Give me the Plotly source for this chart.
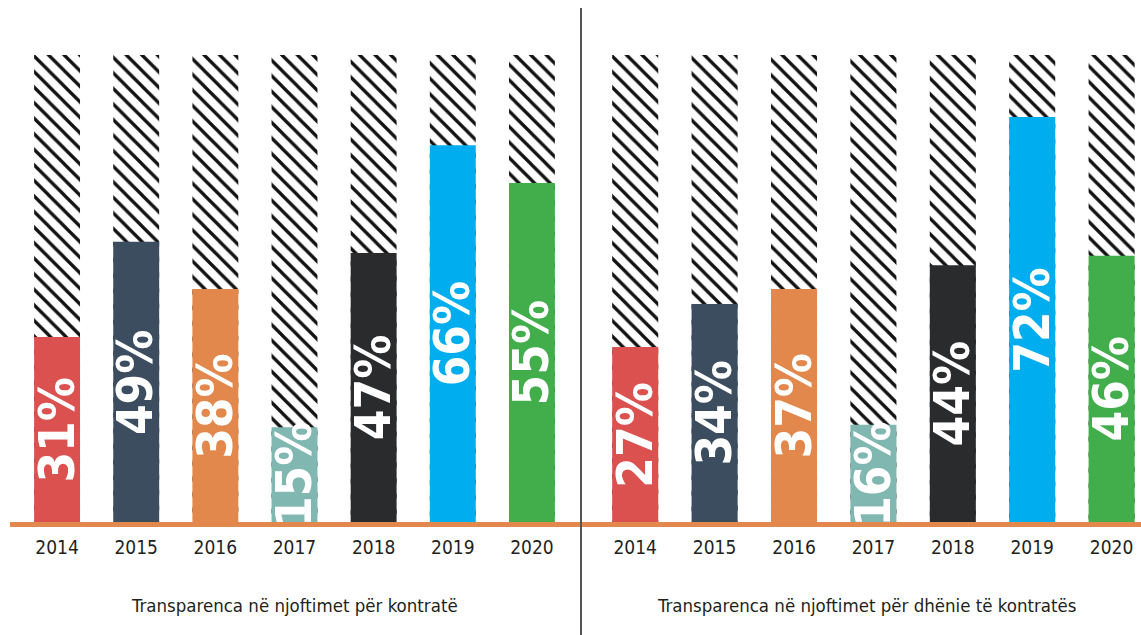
import plotly.graph_objects as go

years = ["2014", "2015", "2016", "2017", "2018", "2019", "2020"]
colors = ["#DA5150", "#3B4D5F", "#E2884C", "#80B7B0", "#2A2B2D", "#00ADEE", "#41AE4B"]

# left panel: "Transparenca në njoftimet për kontratë"
left_labels = ["31%", "49%", "38%", "15%", "47%", "66%", "55%"]
left_heights = [39.6, 60.0, 49.9, 20.3, 57.6, 80.7, 72.6]   # drawn heights (share of full bar)
# right panel: "Transparenca në njoftimet për dhënie të kontratës"
right_labels = ["27%", "34%", "37%", "16%", "44%", "72%", "46%"]
right_heights = [37.5, 46.7, 49.9, 20.8, 55.0, 86.7, 57.0]
full = [100] * 7

titles = ["Transparenca në njoftimet për kontratë",
          "Transparenca në njoftimet për dhënie të kontratës"]

FONT = "DejaVu Sans Condensed, Roboto, sans-serif"
W, H = 1141, 635
fig = go.Figure()

panels = [("x", left_heights, left_labels), ("x2", right_heights, right_labels)]
for xa, heights, labels in panels:
    fig.add_trace(go.Bar(
        x=years, y=full, xaxis=xa, yaxis="y",
        marker=dict(color="white", line=dict(width=0),
                    pattern=dict(shape="\\", fgcolor="#111111", bgcolor="white",
                                 fgopacity=1, size=11, solidity=0.3)),
        hoverinfo="skip", showlegend=False))
    fig.add_trace(go.Bar(
        x=years, y=heights, xaxis=xa, yaxis="y",
        marker=dict(color=colors, line=dict(width=0)),
        showlegend=False))
    for i, (h, lab) in enumerate(zip(heights, labels)):
        fig.add_annotation(x=i, y=h / 2, xref=xa, yref="y", text="<b>" + lab + "</b>",
                           textangle=-90, showarrow=False,
                           font=dict(family=FONT, size=49, color="white"))

# panel subtitles
fig.add_annotation(x=0.2585, y=-83 / 467, xref="paper", yref="paper", text=titles[0],
                   xanchor="center", yanchor="middle", showarrow=False,
                   font=dict(family=FONT, size=18.5, color="#231f20"))
fig.add_annotation(x=0.759, y=-83 / 467, xref="paper", yref="paper", text=titles[1],
                   xanchor="center", yanchor="middle", showarrow=False,
                   font=dict(family=FONT, size=18.5, color="#231f20"))

# baseline and divider
fig.add_shape(type="line", xref="paper", yref="paper", x0=10 / W, x1=1.0,
              y0=-2.5 / 467, y1=-2.5 / 467, line=dict(color="#E2884C", width=5))
fig.add_shape(type="line", xref="paper", yref="paper", x0=581 / W, x1=581 / W,
              y0=(522 - 635) / 467, y1=(522 - 8) / 467, line=dict(color="#555555", width=2))

axis_common = dict(type="category", showgrid=False, zeroline=False, showline=False,
                   ticks="", ticklabelstandoff=12,
                   tickfont=dict(family=FONT, size=19, color="#231f20"),
                   fixedrange=True)
fig.update_layout(
    width=W, height=H,
    margin=dict(l=0, r=0, t=55, b=113),
    paper_bgcolor="white", plot_bgcolor="white",
    barmode="overlay", bargap=0.42,
    xaxis=dict(domain=[17.5 / W, 571.5 / W], range=[-0.5, 6.5], **axis_common),
    xaxis2=dict(domain=[595.5 / W, 1.0], range=[-0.5, 6.37], anchor="y", **axis_common),
    yaxis=dict(range=[0, 100], visible=False, fixedrange=True),
)

fig.write_html("out.html", config={"displayModeBar": False},
               post_script="document.body.style.margin='0';document.body.style.overflow='hidden';")
